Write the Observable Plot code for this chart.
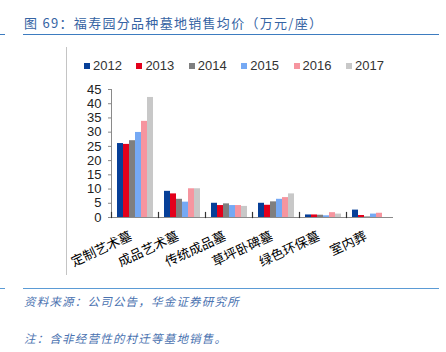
<!DOCTYPE html>
<html><head><meta charset="utf-8">
<script src="https://cdn.jsdelivr.net/npm/d3@7"></script>
<script src="https://cdn.jsdelivr.net/npm/@observablehq/plot@0.6"></script>
<style>
body{margin:0;background:#fff;}
#wrap{position:relative;width:446px;height:352px;overflow:hidden;background:#fff;}
.abs{position:absolute;}
#title{left:24px;top:14px;font-family:"Noto Sans CJK SC",sans-serif;font-size:13px;letter-spacing:1.3px;color:#3563a3;white-space:nowrap;line-height:18px;}
.hl{height:1.5px;background:#3d7cc0;}
.src{left:24px;font-family:"Noto Sans CJK SC",sans-serif;font-size:11.5px;font-style:italic;letter-spacing:1.2px;color:#4a72b0;white-space:nowrap;line-height:16px;}
#legend{left:84px;top:58px;display:flex;font-family:"Liberation Sans",Arial,sans-serif;font-size:13px;color:#333;line-height:16px;}
#legend .it{width:52.4px;display:flex;align-items:center;}
#legend .sw{width:6px;height:6px;margin-right:3px;}
#chart{left:0;top:0;}
</style></head><body>
<div id="wrap">
  <div id="title" class="abs">图 69：福寿园分品种墓地销售均价（万元/座）</div>
  <div class="abs hl" style="left:0;top:33.5px;width:5px;"></div>
  <div class="abs hl" style="left:23px;top:33.5px;width:416px;"></div>
  <div class="abs" style="left:66px;top:47px;width:1px;height:228px;background:#c4c4c4;"></div>
  <div id="chart" class="abs"></div>
  <div id="legend" class="abs"></div>
  <div class="abs hl" style="left:0;top:287.5px;width:5px;background:#5b9bd5;"></div>
  <div class="abs hl" style="left:23px;top:287.5px;width:416px;background:#5b9bd5;"></div>
  <div class="abs src" style="top:293px;">资料来源：公司公告，华金证券研究所</div>
  <div class="abs src" style="top:330px;">注：含非经营性的村迁等墓地销售。</div>
</div>
<script>
const categories = ["定制艺术墓","成品艺术墓","传统成品墓","草坪卧碑墓","绿色环保墓","室内葬"];
const years = ["2012","2013","2014","2015","2016","2017"];
const v2012 = [26.0, 9.2, 5.0, 5.0, 0.9, 2.6];
const v2013 = [25.7, 8.3, 4.2, 4.3, 0.9, 0.7];
const v2014 = [27.0, 6.4, 4.8, 5.5, 0.8, 0.2];
const v2015 = [29.9, 5.4, 4.2, 6.4, 0.6, 1.2];
const v2016 = [33.8, 10.1, 4.2, 7.0, 1.7, 1.5];
const v2017 = [42.2, 10.1, 3.9, 8.3, 1.2, 0.0];
const yTicks = [0,5,10,15,20,25,30,35,40,45];
const colors = ["#063f98","#e3001b","#7f7f7f","#75a9f4","#f6959f","#c8c8c8"];

const series = [v2012, v2013, v2014, v2015, v2016, v2017];
const data = [];
categories.forEach((c, i) => years.forEach((y, j) => data.push({cat: c, year: y, value: series[j][i]})));

const plot = Plot.plot({
  width: 446, height: 290,
  marginTop: 89, marginBottom: 73, marginLeft: 110, marginRight: 52,
  style: {background: "transparent", fontFamily: "Liberation Sans, Arial, sans-serif"},
  fx: {domain: categories, padding: 0, axis: null, label: null},
  x: {domain: years, paddingInner: 0, paddingOuter: 0.75, axis: null},
  y: {domain: [0, 45], axis: null},
  color: {domain: years, range: colors},
  marks: [
    Plot.barY(data, {fx: "cat", x: "year", y: "value", fill: "year", inset: 0}),
    Plot.ruleY([0], {stroke: "#8a8a8a"}),
    Plot.frame({anchor: "left", facetAnchor: "left", stroke: "#8a8a8a"}),
    Plot.frame({anchor: "left", insetTop: 123, stroke: "#333", strokeWidth: 1.2}),
    Plot.axisY({ticks: yTicks, tickSize: 3, tickPadding: 7, fontSize: 13, fill: "#222", stroke: "#8a8a8a", label: null, fontFamily: "Liberation Sans, Arial, sans-serif"}),
    Plot.axisFx({anchor: "bottom", tickRotate: -25, tickSize: 0, tickPadding: 18, dx: -4, fontSize: 13, fill: "#000", label: null, fontFamily: "Noto Sans CJK SC, sans-serif"})
  ]
});
document.getElementById("chart").appendChild(plot);

const cs = plot.scale("color");
const legend = d3.select("#legend");
cs.domain.forEach((d, i) => {
  const it = legend.append("div").attr("class", "it");
  it.append("div").attr("class", "sw").style("background", cs.range[i]);
  it.append("span").text(d);
});
</script>
</body></html>
